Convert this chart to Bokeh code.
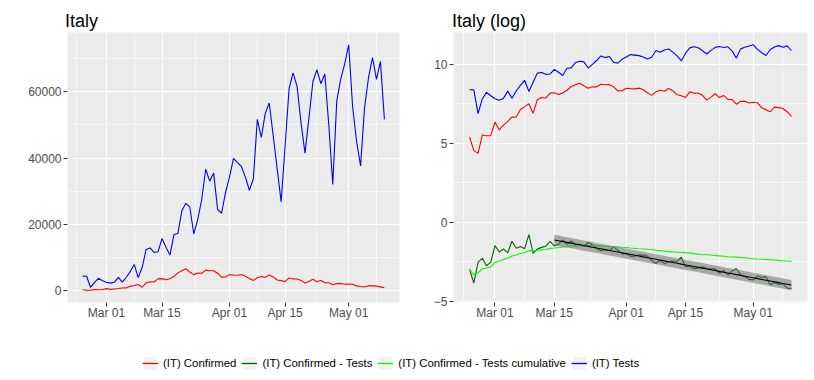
import numpy as np
import pandas as pd
from bokeh.plotting import figure
from bokeh.models import (FixedTicker, DatetimeTickFormatter, Range1d, Legend, LegendItem,
                          CustomJSTickFormatter, NumeralTickFormatter, Label)
from bokeh.layouts import column, row
from bokeh.embed import file_html
from bokeh.resources import INLINE

# ---------------- data ----------------
dates = pd.date_range("2020-02-24", "2020-05-10", freq="D")

confirmed = [221, 93, 78, 250, 238, 240,
             566, 342, 466, 587, 769, 778, 1247, 1492, 1797, 977, 2313, 2651, 2547, 3497, 3590,
             3233, 3526, 4207, 5322, 5986, 6557, 5560, 4789, 5249, 5210, 6153, 5959, 5974, 5217,
             4050, 4053,
             4782, 4668, 4585, 4805, 4316, 3599, 3039, 3836, 4204, 3951, 4694, 4092, 3153, 2972,
             2667, 3786, 3493, 3491, 3047, 2256, 2729, 3370, 2646, 3021, 2357, 2324, 1739, 2091,
             2086, 1872,
             1965, 1900, 1389, 1221, 1075, 1444, 1401, 1327, 1083, 802]

tests = [4324, 4299, 964, 2427, 3681, 2966,
         2466, 2218, 2511, 3981, 2525, 3997, 5703, 7875, 3889, 6935, 12393, 12857, 11477, 11682,
         15729, 13063, 10695, 16884, 17236, 24109, 26336, 25180, 17066, 21496, 27481, 36615,
         33019, 35447, 24504, 23329, 29609,
         34346, 39918, 38617, 37375, 34237, 30271, 33713, 51680, 46244, 53495, 56609, 46720,
         36717, 26779, 43715, 60999, 65705, 61725, 50708, 41483, 52126, 63101, 66658, 62447,
         65387, 49916, 32003, 57272, 63827, 68456,
         74208, 55412, 44935, 37631, 55263, 64263, 70359, 63775, 69171, 51678]

series_labels = ["(IT) Confirmed", "(IT) Confirmed - Tests",
                 "(IT) Confirmed - Tests cumulative", "(IT) Tests"]
series_colors = ["#FF0000", "#006400", "#00FF00", "#0000FF"]

titles = ["Italy", "Italy (log)"]
x_major = ["2020-03-01", "2020-03-15", "2020-04-01", "2020-04-15", "2020-05-01"]
x_outer = ["2020-02-15", "2020-05-15"]
fit_start = "2020-03-15"
left_yticks = [0, 20000, 40000, 60000]
left_yminor = [10000, 30000, 50000, 70000]
right_yticks = [-5, 0, 5, 10]
right_yminor = [-2.5, 2.5, 7.5]

# ---------------- derived ----------------
conf = np.array(confirmed, dtype=float)
tst = np.array(tests, dtype=float)
log_conf = np.log(conf)
log_tests = np.log(tst)
log_ratio = np.log(conf / tst)
log_cum_ratio = np.log(np.cumsum(conf) / np.cumsum(tst))

mask = dates >= pd.Timestamp(fit_start)
fit_dates = dates[mask]
t = np.asarray((fit_dates - fit_dates[0]).days, dtype=float)
yv = log_ratio[mask]
slope, intercept = np.polyfit(t, yv, 1)
fit = intercept + slope * t
n = len(t)
s = np.sqrt(np.sum((yv - fit) ** 2) / (n - 2))
se = s * np.sqrt(1 + 1 / n + (t - t.mean()) ** 2 / np.sum((t - t.mean()) ** 2))
lo = fit - 1.96 * se
hi = fit + 1.96 * se


def ms(d):
    return pd.Timestamp(d).value / 1e6


span = ms(dates[-1]) - ms(dates[0])
x_start = ms(dates[0]) - 0.05 * span
x_end = ms(dates[-1]) + 0.05 * span

maj_ext = [ms(d) for d in [x_outer[0]] + x_major + [x_outer[1]]]
x_minor = [(a + b) / 2 for a, b in zip(maj_ext[:-1], maj_ext[1:])]
x_major_ms = [ms(d) for d in x_major]


def expand(lo_v, hi_v):
    r = hi_v - lo_v
    return lo_v - 0.05 * r, hi_v + 0.05 * r


left_range = expand(min(conf.min(), tst.min()), max(conf.max(), tst.max()))
right_range = expand(min(log_ratio.min(), lo.min()), max(log_tests.max(), hi.max()))

FONT = "Liberation Sans"
TOTAL_W = 814
HEAD_H = 32
PANEL_H = 294
TOTAL_H = 380
LEFT_W = 418


def make_panel(width, mb_left, mb_right, yr, yt, ym, yfmt):
    p = figure(width=width, height=PANEL_H, x_axis_type="datetime",
               x_range=Range1d(x_start, x_end), y_range=Range1d(*yr),
               toolbar_location=None, output_backend="svg",
               min_border_left=mb_left, min_border_right=mb_right,
               min_border_top=0, min_border_bottom=24)
    p.background_fill_color = "#EBEBEB"
    p.border_fill_color = "white"
    p.outline_line_color = None
    p.xaxis.ticker = FixedTicker(ticks=x_major_ms, minor_ticks=x_minor)
    p.xaxis.formatter = DatetimeTickFormatter(days="%b %d", months="%b %d", years="%b %d",
                                              hours="%b %d", hourmin="%b %d")
    p.yaxis.ticker = FixedTicker(ticks=yt, minor_ticks=ym)
    p.yaxis.formatter = yfmt
    for g in (p.xgrid, p.ygrid):
        g.grid_line_color = "white"
        g.grid_line_width = 1.2
        g.minor_grid_line_color = "white"
        g.minor_grid_line_width = 0.6
    for ax in p.axis:
        ax.axis_line_color = None
        ax.major_tick_line_color = "#333333"
        ax.major_tick_in = 0
        ax.major_tick_out = 4
        ax.minor_tick_line_color = None
        ax.major_label_text_color = "#4D4D4D"
        ax.major_label_text_font = FONT
        ax.major_label_text_font_size = "12px"
    p.xaxis.major_label_standoff = -1
    p.yaxis.major_label_standoff = 2
    return p


# ---------------- header with panel titles ----------------
head = figure(width=TOTAL_W, height=HEAD_H, x_range=Range1d(0, TOTAL_W), y_range=Range1d(0, HEAD_H),
              toolbar_location=None, output_backend="svg", min_border=0,
              x_axis_type=None, y_axis_type=None)
head.outline_line_color = None
head.background_fill_color = "white"
head.border_fill_color = "white"
for tx, title in zip([64.5, 451.5], titles):
    head.add_layout(Label(x=tx, y=12, text=title, text_font=FONT, text_font_size="18px",
                          text_color="black", text_baseline="alphabetic", text_align="left"))

# ---------------- panels ----------------
p1 = make_panel(LEFT_W, 67, 19, left_range, left_yticks, left_yminor,
                NumeralTickFormatter(format="0"))
p1.line(dates, conf, line_color=series_colors[0], line_width=1.1)
p1.line(dates, tst, line_color=series_colors[3], line_width=1.1)

minus_fmt = CustomJSTickFormatter(code="return tick < 0 ? '\\u2212' + Math.abs(tick) : String(tick);")
p2 = make_panel(TOTAL_W - LEFT_W, 35, 7, right_range, right_yticks, right_yminor, minus_fmt)
p2.line(dates, log_conf, line_color=series_colors[0], line_width=1.1)
p2.line(dates, log_ratio, line_color=series_colors[1], line_width=1.1)
p2.line(dates, log_cum_ratio, line_color=series_colors[2], line_width=1.1)
p2.line(dates, log_tests, line_color=series_colors[3], line_width=1.1)
p2.varea(x=fit_dates, y1=lo, y2=hi, fill_color="#666666", fill_alpha=0.5)
p2.line(fit_dates, fit, line_color="black", line_width=1.1)

# ---------------- legend ----------------
p3 = figure(width=TOTAL_W, height=TOTAL_H - HEAD_H - PANEL_H, x_range=Range1d(0, 1),
            y_range=Range1d(0, 1), toolbar_location=None, output_backend="svg", min_border=0,
            x_axis_type=None, y_axis_type=None)
p3.outline_line_color = None
p3.background_fill_color = "white"
# legend-only glyphs, placed outside the visible range
key_bg = p3.quad(left=[-3], right=[-2], top=[-2], bottom=[-3], fill_color="#F2F2F2", line_color=None)
rs = [p3.line(x=[-3, -2], y=[-3, -3], line_color=c, line_width=1.3) for c in series_colors]
items = [LegendItem(label=l, renderers=[key_bg, r]) for l, r in zip(series_labels, rs)]
legend = Legend(items=items, orientation="horizontal", location=(142, 9), padding=0, margin=0,
                spacing=5, label_standoff=5, glyph_width=16, glyph_height=16, label_height=16,
                label_text_font=FONT, label_text_font_size="11.4px", label_text_color="black",
                border_line_color=None, background_fill_alpha=0)
p3.add_layout(legend, "center")

layout = column(head, row(p1, p2), p3)
open("out.html", "w").write(file_html(layout, INLINE))
